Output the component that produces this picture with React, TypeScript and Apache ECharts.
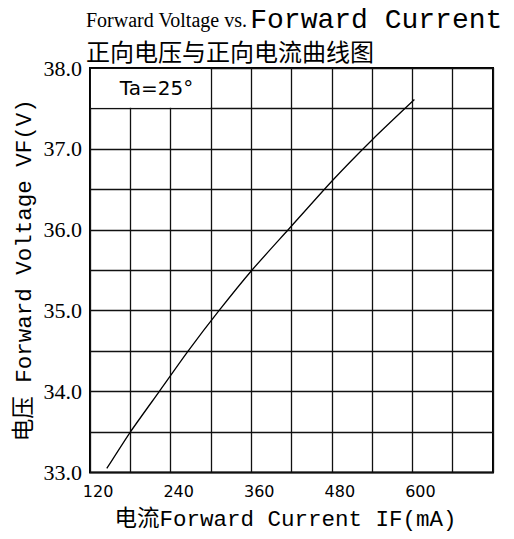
import React, { useEffect, useRef } from 'react';
import * as echarts from 'echarts';

// Forward current (mA) vs forward voltage (V)
const CURRENT_MA = [133, 168, 211, 254, 300, 349, 403, 469, 529, 591];
const VOLTAGE_V = [33.05, 33.5, 34.0, 34.5, 35.0, 35.5, 36.0, 36.61, 37.12, 37.61];

// Tick labels shown on the axes
const X_TICK_LABELS = [120, 240, 360, 480, 600];
const Y_TICK_LABELS = [33, 34, 35, 36, 37, 38];

const TITLE_EN_SERIF = 'Forward Voltage vs.';
const TITLE_EN_MONO = 'Forward Current';
const TITLE_CN = '正向电压与正向电流曲线图';
const X_NAME = '电流Forward Current IF(mA)';
const Y_NAME = '电压 Forward Voltage VF(V)';
const NOTE = 'Ta=25°';

export default function App() {
  const ref = useRef<HTMLDivElement>(null);

  useEffect(() => {
    const chart = echarts.init(ref.current!, null, { renderer: 'svg' });
    const mono = 'Liberation Mono, Noto Sans CJK SC, monospace';
    const gridLine = { show: true, lineStyle: { color: '#111', width: 1.3 } };

    const option: any = {
      animation: false,
      backgroundColor: '#fff',
      title: [
        {
          left: 86,
          top: 5,
          padding: 0,
          text: `{a|${TITLE_EN_SERIF}}{b|${TITLE_EN_MONO}}`,
          textStyle: {
            fontWeight: 'normal',
            rich: {
              a: { fontFamily: 'Liberation Serif', fontSize: 20, fontWeight: 'normal', color: '#000', lineHeight: 30 },
              b: { fontFamily: mono, fontSize: 28, fontWeight: 'normal', color: '#000', lineHeight: 30, padding: [0, 0, 0, 3] },
            },
          },
        },
        {
          left: 86,
          top: 36,
          padding: 0,
          text: TITLE_CN,
          textStyle: { fontFamily: 'Noto Sans CJK SC', fontSize: 24, fontWeight: 'normal', color: '#000', lineHeight: 28 },
        },
      ],
      grid: {
        left: 90,
        top: 68,
        width: 403,
        height: 404.5,
        show: true,
        borderColor: '#000',
        borderWidth: 2,
        backgroundColor: '#fff',
      },
      xAxis: [
        {
          type: 'value',
          min: 0,
          max: 600,
          interval: 60,
          axisLine: { show: false },
          axisTick: { show: false },
          axisLabel: { show: false },
          splitLine: gridLine,
        },
        {
          type: 'value',
          min: 108,
          max: 708,
          interval: 12,
          position: 'bottom',
          axisLine: { show: false },
          axisTick: { show: false },
          splitLine: { show: false },
          axisLabel: {
            margin: 11,
            fontFamily: 'DejaVu Sans',
            fontSize: 16,
            fontWeight: 'normal',
            color: '#000',
            formatter: (v: number) => (X_TICK_LABELS.some((t) => Math.abs(t - v) < 1e-6) ? String(Math.round(v)) : ''),
          },
          name: X_NAME,
          nameLocation: 'middle',
          nameGap: 36,
          nameMoveOverlap: false,
          nameTextStyle: { fontFamily: mono, fontSize: 22.5, color: '#000', padding: [0, 12, 0, 0] },
        },
      ],
      yAxis: {
        type: 'value',
        min: 33,
        max: 38,
        interval: 0.5,
        axisLine: { show: false },
        axisTick: { show: false },
        splitLine: gridLine,
        axisLabel: {
          margin: 8,
          fontFamily: 'Liberation Serif',
          fontSize: 22,
          fontWeight: 'normal',
          color: '#000',
          formatter: (v: number) => (Y_TICK_LABELS.some((t) => Math.abs(t - v) < 1e-6) ? v.toFixed(1) : ''),
        },
        name: Y_NAME,
        nameLocation: 'middle',
        nameRotate: 90,
        nameGap: 54,
        nameMoveOverlap: false,
        nameTextStyle: { fontFamily: mono, fontSize: 22.5, color: '#000' },
      },
      series: [
        {
          type: 'line',
          xAxisIndex: 1,
          yAxisIndex: 0,
          data: CURRENT_MA.map((c, i) => [c, VOLTAGE_V[i]]),
          symbol: 'none',
          smooth: 0.2,
          lineStyle: { color: '#000', width: 1.3 },
          z: 5,
        },
      ],
    };

    chart.setOption(option);

    const p0 = chart.convertToPixel({ xAxisIndex: 0, yAxisIndex: 0 } as any, [0, 38]) as number[];
    const p1 = chart.convertToPixel({ xAxisIndex: 0, yAxisIndex: 0 } as any, [180, 37.5]) as number[];
    chart.setOption({
      graphic: [
        {
          type: 'rect',
          z: 10,
          shape: { x: p0[0] + 1, y: p0[1] + 1, width: p1[0] - p0[0] - 1.7, height: p1[1] - p0[1] - 1.7 },
          style: { fill: '#fff' },
          silent: true,
        },
        {
          type: 'text',
          z: 11,
          x: (p0[0] + p1[0]) / 2 + 6,
          y: (p0[1] + p1[1]) / 2,
          style: {
            text: NOTE,
            font: 'normal 20px "DejaVu Sans"',
            fill: '#000',
            align: 'center',
            verticalAlign: 'middle',
          },
          silent: true,
        },
      ],
    });

    return () => chart.dispose();
  }, []);

  return <div ref={ref} style={{ position: 'absolute', left: 0, top: 0, width: 514, height: 539 }} />;
}
